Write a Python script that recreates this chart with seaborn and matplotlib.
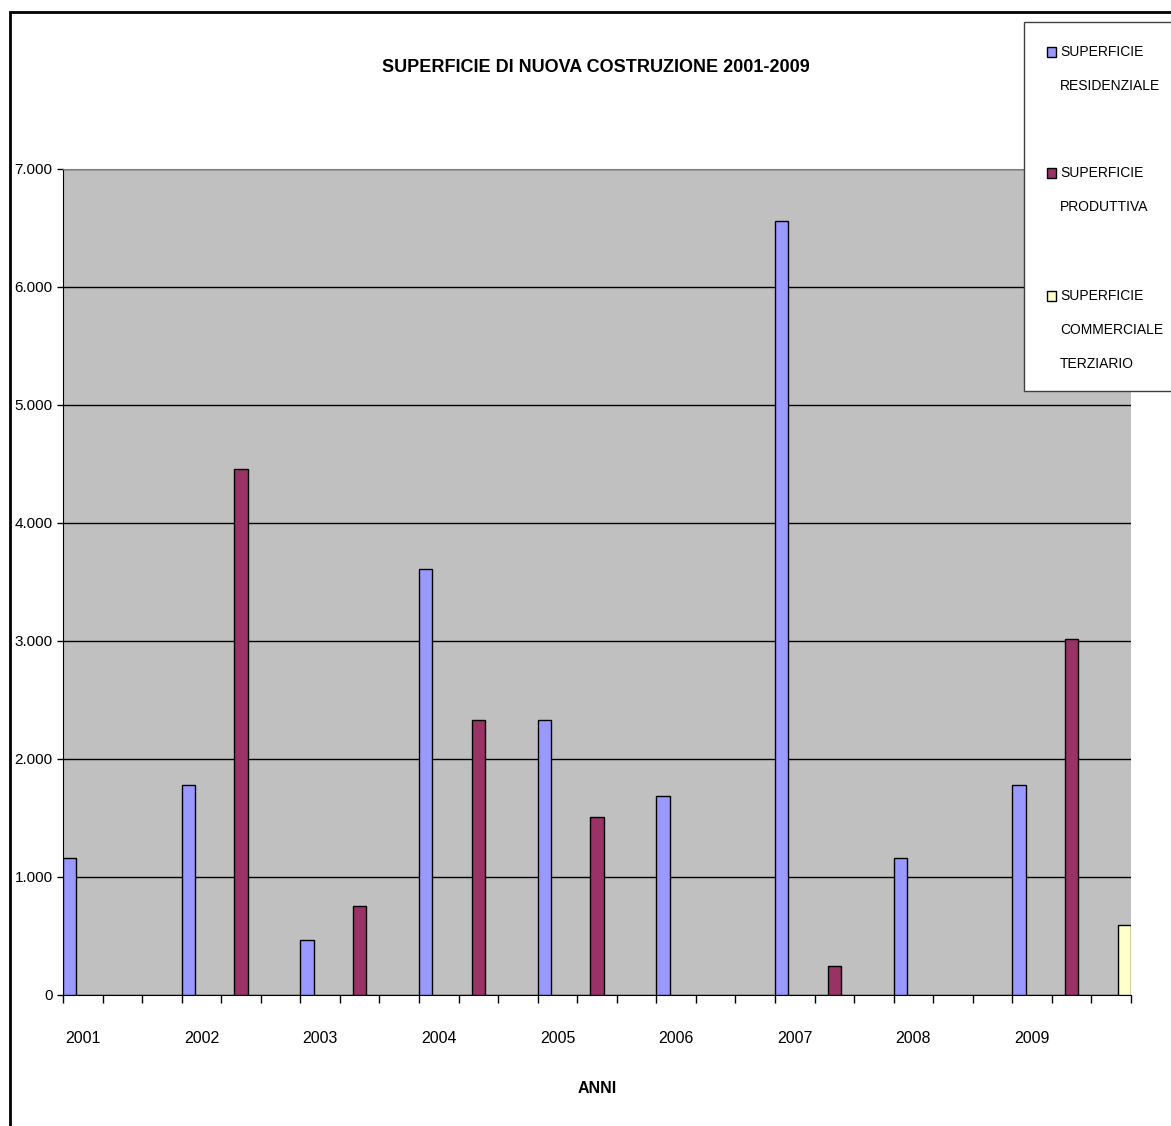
import matplotlib
matplotlib.use('Agg')
import matplotlib.pyplot as plt
from matplotlib.patches import Rectangle
from matplotlib.ticker import FuncFormatter, FixedLocator
import seaborn as sns
import pandas as pd
import numpy as np

# data (m2 per anno)
anni = ['2001', '2002', '2003', '2004', '2005', '2006', '2007', '2008', '2009']
residenziale = [1160, 1780, 466, 3610, 2330, 1690, 6560, 1160, 1780]
produttiva = [None, 4460, 754, 2330, 1510, None, 246, None, 3020]
commerciale = [None, None, None, None, None, None, None, None, 593]

serie = ['SUPERFICIE\nRESIDENZIALE', 'SUPERFICIE\nPRODUTTIVA',
         'SUPERFICIE\nCOMMERCIALE\nTERZIARIO']
colori = ['#9999FF', '#993366', '#FFFFCC']

sns.set_style('white')
plt.rcParams['font.family'] = ['Liberation Sans', 'DejaVu Sans']
plt.rcParams['text.color'] = 'black'
plt.rcParams['xtick.color'] = 'black'
plt.rcParams['ytick.color'] = 'black'
plt.rcParams['axes.labelcolor'] = 'black'

# the sheet has 3 rows per year, each row holding only one of the series
slots = []
rows = []
for i, anno in enumerate(anni):
    for j, valori in enumerate([residenziale, produttiva, commerciale]):
        slot = '{}-{}'.format(anno, j)
        slots.append(slot)
        if valori[i] is not None:
            rows.append({'slot': slot, 'serie': serie[j], 'valore': valori[i]})
df = pd.DataFrame(rows)

fig = plt.figure(figsize=(11.71, 11.26), dpi=100)
W, H = 1171, 1126
ax = fig.add_axes([63 / W, 1 - 995 / H, (1131 - 63) / W, (995 - 169) / H])
ax.set_facecolor('#C0C0C0')

sns.barplot(data=df, x='slot', y='valore', hue='serie', order=slots,
            hue_order=serie, palette=dict(zip(serie, colori)), width=1,
            dodge=True, saturation=1, edgecolor='black', linewidth=1,
            errorbar=None, legend=False, ax=ax, zorder=3)

ax.set_xlim(-0.5, len(slots) - 0.5)
ax.set_ylim(0, 7000)
ax.set_yticks(np.arange(0, 7001, 1000))
ax.yaxis.set_major_formatter(FuncFormatter(lambda v, p: '{:,.0f}'.format(v).replace(',', '.')))
ax.yaxis.grid(True, color='black', linewidth=1, zorder=1)
ax.set_axisbelow(True)

# tick marks between the rows, year labels centred under the first row of each year
ax.xaxis.set_major_locator(FixedLocator(np.arange(-0.5, len(slots), 1)))
ax.xaxis.set_major_formatter(FuncFormatter(lambda v, p: ''))
ax.xaxis.set_minor_locator(FixedLocator(np.arange(0, len(slots), 3)))
ax.set_xticklabels(anni, minor=True)
ax.tick_params(axis='x', which='major', direction='out', length=6, width=1,
               color='black', bottom=True)
ax.tick_params(axis='x', which='minor', length=0, pad=26, labelsize=11.5)
ax.tick_params(axis='y', direction='out', length=4.5, width=1, color='black',
               left=True, labelsize=11, pad=3)

ax.spines['right'].set_visible(False)
ax.spines['top'].set_color('#808080')
ax.spines['left'].set_color('black')
ax.spines['bottom'].set_color('black')

ax.set_xlabel('ANNI', fontsize=11.5, fontweight='bold', labelpad=25)
ax.set_ylabel('')

fig.text(596 / W, 1 - 68 / H, 'SUPERFICIE DI NUOVA COSTRUZIONE 2001-2009',
         ha='center', va='center', fontsize=13, fontweight='bold')

# outer chart frame (right and bottom edges fall outside the picture)
fig.patches.append(Rectangle((10 / W, -0.1), 1.2, 1 - 12 / H + 0.1,
                             transform=fig.transFigure, fill=False,
                             edgecolor='black', linewidth=2))

# legend box, one block per series
fig.patches.append(Rectangle((1024 / W, 1 - 391 / H), 0.2, (391 - 22) / H,
                             transform=fig.transFigure, facecolor='white',
                             edgecolor='#404040', linewidth=1, zorder=5))
primi = [52, 173, 296]
for nome, col, y0 in zip(serie, colori, primi):
    fig.patches.append(Rectangle((1047 / W, 1 - (y0 + 5) / H), 9 / W, 10 / H,
                                 transform=fig.transFigure, facecolor=col,
                                 edgecolor='black', linewidth=1, zorder=6))
    for k, riga in enumerate(nome.split('\n')):
        fig.text(1060 / W, 1 - (y0 + 34 * k) / H, riga, ha='left',
                 va='center', fontsize=10, zorder=7)

fig.savefig('out.png', dpi=100)
